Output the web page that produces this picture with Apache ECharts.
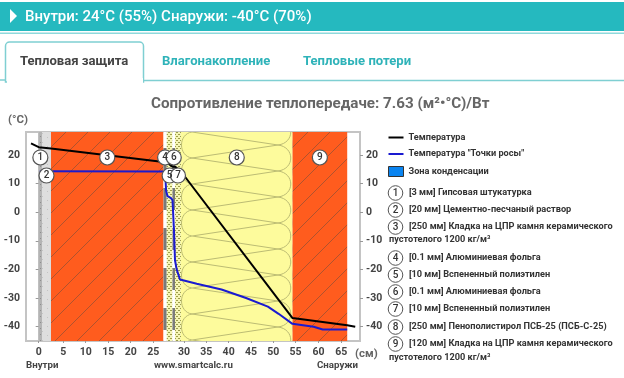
<!DOCTYPE html>
<html>
<head>
<meta charset="utf-8">
<style>
  html, body { margin: 0; padding: 0; background: #fff; }
  #chart { width: 624px; height: 378px; }
</style>
<script src="https://cdn.jsdelivr.net/npm/echarts@6/dist/echarts.min.js"></script>
</head>
<body>
<div id="chart"></div>
<script>
// layer edges: real depth in cm, and where the site draws them (thin layers are stretched)
const edgesCm = [0, 0.3, 2.3, 27.3, 27.31, 28.31, 28.32, 29.32, 54.32, 66.32];
const edgesDrawn = [0, 0.73, 2.72, 27.61, 28.32, 29.6, 30.15, 31.48, 56.15, 68.25];

const tempCm = [-1.7, 0, 2.3, 27.3, 27.31, 28.31, 28.32, 29.32, 54.32, 66.32, 68.1];
const tempVals = [24, 22.7, 22.2, 17.5, 17.4, 15.9, 15.9, 14.2, -37, -39.5, -40];

const dewCm = [0.1, 27.305, 27.308, 27.448, 28.05, 28.31, 28.316, 28.32, 28.6, 29.15, 32.85, 38.4, 43.9, 48.8, 51.2, 54.3, 58.96, 60.95, 66.32];
const dewVals = [14.3, 14.2, 7.6, 5.6, 4.9, 4.2, -6.3, -16.8, -20, -23.5, -25, -27, -30, -33, -35.5, -39, -40, -41, -41];

const xTicks = [0, 5, 10, 15, 20, 25, 30, 35, 40, 45, 50, 55, 60, 65];
const yTicks = [-40, -30, -20, -10, 0, 10, 20];

const layerNames = [
  '[3 мм] Гипсовая штукатурка',
  '[20 мм] Цементно-песчаный раствор',
  '[250 мм] Кладка на ЦПР камня керамического',
  '[0.1 мм] Алюминиевая фольга',
  '[10 мм] Вспененный полиэтилен',
  '[0.1 мм] Алюминиевая фольга',
  '[10 мм] Вспененный полиэтилен',
  '[250 мм] Пенополистирол ПСБ-25 (ПСБ-С-25)',
  '[120 мм] Кладка на ЦПР камня керамического'
];
const layerNameTail = 'пустотелого 1200 кг/м³';

// cm -> axis position
function toAxis(cm) {
  const n = edgesCm.length;
  if (cm <= 0) return cm;
  if (cm >= edgesCm[n - 1]) return edgesDrawn[n - 1] + cm - edgesCm[n - 1];
  for (let i = 1; i < n; i++) {
    if (cm <= edgesCm[i]) {
      const t = (cm - edgesCm[i - 1]) / (edgesCm[i] - edgesCm[i - 1]);
      return edgesDrawn[i - 1] + t * (edgesDrawn[i] - edgesDrawn[i - 1]);
    }
  }
}

function tile(w, h, draw) {
  const c = document.createElement('canvas');
  c.width = w;
  c.height = h;
  draw(c.getContext('2d'));
  return c;
}

const brick = tile(22, 22, ctx => {
  ctx.fillStyle = '#ff5c1e';
  ctx.fillRect(0, 0, 22, 22);
  ctx.strokeStyle = '#b0532e';
  ctx.lineWidth = 1;
  ctx.beginPath();
  ctx.moveTo(-2, 24); ctx.lineTo(24, -2);
  ctx.moveTo(-2, 2); ctx.lineTo(2, -2);
  ctx.moveTo(20, 24); ctx.lineTo(24, 20);
  ctx.stroke();
});
const foam = tile(111, 52, ctx => {
  ctx.fillStyle = '#fdfb9c';
  ctx.fillRect(0, 0, 111, 52);
  ctx.strokeStyle = '#bcbc74';
  ctx.lineWidth = 1;
  ctx.beginPath();
  ctx.moveTo(11, 0); ctx.lineTo(97, 13); ctx.lineTo(11, 26); ctx.lineTo(97, 39); ctx.lineTo(11, 52);
  ctx.moveTo(11, 0); ctx.bezierCurveTo(-3, 2, -3, 24, 11, 26);
  ctx.moveTo(11, 26); ctx.bezierCurveTo(-3, 28, -3, 50, 11, 52);
  ctx.moveTo(97, 13); ctx.bezierCurveTo(114, 15, 114, 37, 97, 39);
  ctx.moveTo(97, 39); ctx.bezierCurveTo(114, 41, 114, 63, 97, 65);
  ctx.moveTo(97, -13); ctx.bezierCurveTo(114, -11, 114, 11, 97, 13);
  ctx.stroke();
});
const foil = tile(4, 40, ctx => {
  ctx.fillStyle = '#fff';
  ctx.fillRect(0, 0, 4, 40);
  ctx.fillStyle = '#7a7a7a';
  ctx.fillRect(0, 18, 4, 22);
});
const poly = tile(4, 4, ctx => {
  ctx.fillStyle = '#f5f5b4';
  ctx.fillRect(0, 0, 4, 4);
  ctx.fillStyle = '#9c9d4c';
  ctx.fillRect(0, 0, 2, 1);
  ctx.fillRect(2, 2, 2, 1);
});
const plaster = tile(6, 6, ctx => {
  ctx.fillStyle = '#b4b4b4';
  ctx.fillRect(0, 0, 6, 6);
  ctx.fillStyle = '#8e8e8e';
  ctx.fillRect(1, 1, 1, 1);
  ctx.fillRect(4, 4, 1, 1);
});
const mortar = tile(9, 9, ctx => {
  ctx.fillStyle = '#dedede';
  ctx.fillRect(0, 0, 9, 9);
  ctx.fillStyle = '#c4c4c4';
  ctx.fillRect(2, 2, 1, 1);
  ctx.fillRect(6, 7, 1, 1);
});
const layerTiles = [plaster, mortar, brick, foil, poly, foil, poly, foam, brick];

const yMin = -45, yMax = 28;

function renderLayer(params, api) {
  const i = api.value(0);
  const a = api.coord([edgesDrawn[i], yMax]);
  const b = api.coord([edgesDrawn[i + 1], yMin]);
  const isFoil = layerTiles[i] === foil;
  return {
    type: 'rect',
    shape: { x: a[0], y: a[1], width: b[0] - a[0], height: b[1] - a[1] },
    style: {
      fill: {
        image: layerTiles[i],
        repeat: 'repeat',
        x: layerTiles[i] === foam ? Math.round(a[0]) : 0,
        y: layerTiles[i] === foam ? a[1] : (isFoil ? 10 : 0)
      }
    }
  };
}

// row of the number badges inside the plot
const badgeRow = [19.1, 12.8, 19.1, 19.1, 12.8, 19.1, 12.8, 19.1, 19.1];
const badges = layerNames.map((n, i) => {
  let mid = (edgesDrawn[i] + edgesDrawn[i + 1]) / 2;
  return { value: [mid, badgeRow[i]], name: String(i + 1) };
});

const labelFont = 'Roboto, sans-serif';
const listFont = '700 9.2px ' + labelFont;
const graphics = [
  { type: 'rect', shape: { x: 0, y: 2, width: 624, height: 29 }, style: { fill: '#25b9bf' } },
  { type: 'rect', shape: { x: 0, y: 32.5, width: 624, height: 1.5 }, style: { fill: '#8fd9dc' } },
  { type: 'polygon', shape: { points: [[10, 9], [17, 16], [10, 23]] }, style: { fill: '#fff' } },
  { type: 'text', x: 25, y: 17, style: { text: 'Внутри: 24°C (55%) Снаружи: -40°C (70%)', fill: '#fff', font: '500 15px ' + labelFont, textVerticalAlign: 'middle' } },
  { type: 'polyline', shape: { points: [[0, 80], [5, 80]] }, style: { stroke: '#7fcfd2', lineWidth: 1.5, fill: null } },
  { type: 'rect', shape: { x: 5.5, y: 42, width: 138, height: 40, r: [4, 4, 0, 0] }, style: { stroke: '#7fcfd2', lineWidth: 1.5, fill: '#fff' } },
  { type: 'polyline', shape: { points: [[144, 80.5], [624, 80.5]] }, style: { stroke: '#7fcfd2', lineWidth: 1.5, fill: null } },
  { type: 'rect', shape: { x: 7, y: 78, width: 136, height: 6 }, style: { fill: '#fff' } },
  { type: 'text', x: 20, y: 62, style: { text: 'Тепловая защита', fill: '#444', font: '700 13.1px ' + labelFont, textVerticalAlign: 'middle' } },
  { type: 'text', x: 162, y: 62, style: { text: 'Влагонакопление', fill: '#2fb3b9', font: '700 13.1px ' + labelFont, textVerticalAlign: 'middle' } },
  { type: 'text', x: 303, y: 62, style: { text: 'Тепловые потери', fill: '#2fb3b9', font: '700 13.1px ' + labelFont, textVerticalAlign: 'middle' } },
  { type: 'text', x: 8, y: 120, style: { text: '(°C)', fill: '#666', font: '700 11.5px ' + labelFont, textVerticalAlign: 'middle' } },
  { type: 'text', x: 355, y: 354, style: { text: '(см)', fill: '#666', font: '700 11.5px ' + labelFont, textVerticalAlign: 'middle' } },
  { type: 'text', x: 26, y: 366, style: { text: 'Внутри', fill: '#444', font: '700 9.7px ' + labelFont, textVerticalAlign: 'middle' } },
  { type: 'text', x: 154, y: 366, style: { text: 'www.smartcalc.ru', fill: '#444', font: '700 9.7px ' + labelFont, textVerticalAlign: 'middle' } },
  { type: 'text', x: 317, y: 366, style: { text: 'Снаружи', fill: '#444', font: '700 9.7px ' + labelFont, textVerticalAlign: 'middle' } }
];

// numbered list under the legend
const listY = [193, 210, 227, 258, 275, 292, 309, 327, 344];
layerNames.forEach((name, i) => {
  graphics.push({ type: 'circle', shape: { cx: 395.5, cy: listY[i], r: 7.3 }, style: { fill: '#fff', stroke: '#555', lineWidth: 1 } });
  graphics.push({ type: 'text', x: 395.5, y: listY[i], style: { text: String(i + 1), fill: '#333', font: '500 10px ' + labelFont, textAlign: 'center', textVerticalAlign: 'middle' } });
  graphics.push({ type: 'text', x: 409, y: listY[i], style: { text: name, fill: '#333', font: listFont, textVerticalAlign: 'middle' } });
});
graphics.push({ type: 'text', x: 389, y: 240, style: { text: layerNameTail, fill: '#333', font: listFont, textVerticalAlign: 'middle' } });
graphics.push({ type: 'text', x: 389, y: 358, style: { text: layerNameTail, fill: '#333', font: listFont, textVerticalAlign: 'middle' } });

const myChart = echarts.init(document.getElementById('chart'));
const xLabelOf = {};
xTicks.forEach(t => { xLabelOf[toAxis(t).toFixed(3)] = t; });

function yAxisOf(position) {
  return {
    type: 'value',
    position: position,
    min: yMin,
    max: yMax,
    axisLine: { show: true, lineStyle: { color: '#c4c4c4', width: 2 } },
    axisTick: { show: true, length: 3, customValues: yTicks, lineStyle: { color: '#999', width: 1 } },
    axisLabel: { customValues: yTicks, color: '#444', fontFamily: labelFont, fontWeight: 700, fontSize: 10.5, margin: 6 },
    splitLine: { show: false }
  };
}

myChart.setOption({
  animation: false,
  title: {
    text: 'Сопротивление теплопередаче: 7.63 (м²•°С)/Вт',
    left: 151,
    top: 97,
    padding: 0,
    textStyle: { color: '#666', fontFamily: labelFont, fontWeight: 700, fontSize: 15.2 }
  },
  legend: {
    orient: 'vertical',
    left: 388,
    top: 133,
    padding: 0,
    itemWidth: 15,
    itemHeight: 10,
    itemGap: 7.5,
    textStyle: { color: '#333', fontFamily: labelFont, fontWeight: 700, fontSize: 9.2 },
    data: [
      { name: 'Температура', icon: 'path://M0 0H30V4H0Z' },
      { name: 'Температура "Точки росы"', icon: 'path://M0 0H30V4H0Z' },
      { name: 'Зона конденсации', icon: 'rect', itemStyle: { color: '#0a84f0', borderColor: '#333', borderWidth: 1 } }
    ]
  },
  grid: { show: true, left: 26, right: 264, top: 132, bottom: 37, borderColor: '#c4c4c4', borderWidth: 2 },
  xAxis: {
    type: 'value',
    min: -2.81,
    max: 71.08,
    axisLine: { show: true, onZero: false, lineStyle: { color: '#c4c4c4', width: 2 } },
    axisTick: { show: true, length: 2, customValues: xTicks.map(toAxis), lineStyle: { color: '#999' } },
    axisLabel: {
      customValues: xTicks.map(toAxis),
      color: '#444', fontFamily: labelFont, fontWeight: 700, fontSize: 10.5, margin: 6,
      formatter: v => xLabelOf[Number(v).toFixed(3)]
    },
    splitLine: { show: false }
  },
  yAxis: [yAxisOf('left'), yAxisOf('right')],
  graphic: graphics,
  series: [
    {
      name: 'layers',
      type: 'custom',
      z: 1,
      silent: true,
      renderItem: renderLayer,
      encode: { x: -1, y: -1 },
      data: layerNames.map((n, i) => [i])
    },
    {
      name: 'Зона конденсации',
      type: 'line',
      z: 2,
      symbol: 'none',
      data: []
    },
    {
      name: 'Температура',
      type: 'line',
      z: 3,
      symbol: 'none',
      color: '#000',
      lineStyle: { color: '#000', width: 2 },
      data: tempCm.map((c, i) => [toAxis(c), tempVals[i]])
    },
    {
      name: 'Температура "Точки росы"',
      type: 'line',
      z: 3,
      symbol: 'none',
      color: '#1a1ad0',
      lineStyle: { color: '#1a1ad0', width: 2 },
      data: dewCm.map((c, i) => [toAxis(c), dewVals[i]])
    },
    {
      name: 'badges',
      type: 'scatter',
      z: 4,
      symbol: 'circle',
      symbolSize: 15,
      itemStyle: { color: '#fff', borderColor: '#555', borderWidth: 1.2, opacity: 1 },
      label: {
        show: true,
        position: 'inside',
        formatter: '{b}',
        color: '#333',
        fontFamily: labelFont,
        fontWeight: 500,
        fontSize: 10
      },
      data: badges
    }
  ]
});
</script>
</body>
</html>
